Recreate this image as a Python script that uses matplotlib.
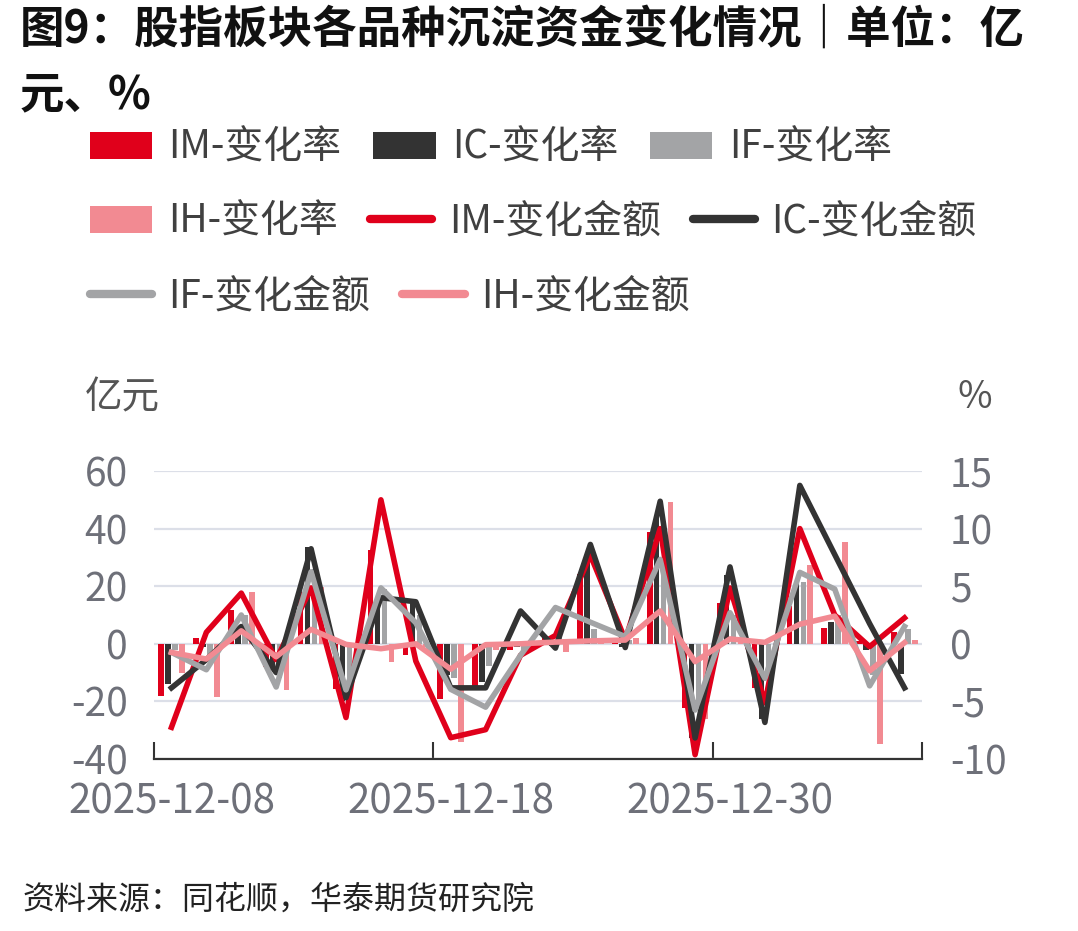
import numpy as np
import matplotlib
matplotlib.use('Agg')
import matplotlib.pyplot as plt
from matplotlib.legend_handler import HandlerLine2D

plt.rcParams['font.family'] = ['Noto Sans CJK SC', 'DejaVu Sans']
plt.rcParams['axes.unicode_minus'] = False

# trading days
dates = ['2025-12-08', '2025-12-09', '2025-12-10', '2025-12-11', '2025-12-12',
         '2025-12-15', '2025-12-16', '2025-12-17', '2025-12-18', '2025-12-19',
         '2025-12-22', '2025-12-23', '2025-12-24', '2025-12-25', '2025-12-26',
         '2025-12-29', '2025-12-30', '2025-12-31', '2026-01-05', '2026-01-06',
         '2026-01-07', '2026-01-08']

# change rate (%), right axis
im_rate = [-4.5, 0.5, 2.9, -2.0, 4.5, -3.9, 8.1, -1.0, -4.8, -3.9, -0.5,
           0.7, 6.1, 0.3, 9.7, -5.6, 3.5, -3.8, 3.3, 1.4, 0.2, 1.0]
ic_rate = [-3.5, -0.3, 1.3, -2.3, 8.4, -5.0, 3.9, 3.6, -2.7, -3.3, -0.3,
           -0.2, 7.4, -0.3, 11.0, -8.2, 6.0, -6.5, 5.4, 1.9, -0.5, -2.6]
if_rate = [-0.5, -1.5, 2.5, -3.0, 6.5, -3.3, 4.8, 2.5, -3.0, -1.9, -0.5,
           1.5, 1.3, 0.3, 7.0, -5.0, 2.5, -2.2, 5.4, 2.5, -2.7, 1.3]
ih_rate = [-2.5, -4.6, 4.5, -4.0, 4.9, -0.5, -1.6, -0.3, -8.5, -0.5, -0.3,
           -0.7, 0.2, 0.5, 12.3, -6.5, 0.5, -0.3, 6.8, 8.8, -8.7, 0.3]

# change amount (亿元), left axis
im_amt = [-29, 4, 17.6, -5.5, 19.4, -25.6, 50, -6, -32.6, -29.8, -4,
          2.9, 30.8, 1.4, 40, -38.5, 19.4, -20.5, 40, 10, -1, 9]
ic_amt = [-15.3, -5.5, 6, -10, 33, -18.7, 16, 14.6, -15.3, -15.3, 11.4,
          -1.5, 34.5, -1.3, 49.5, -32.7, 26.7, -27.3, 55, 31, 7, -15.3]
if_amt = [-3, -9, 10, -15, 25, -16, 19.4, 7.3, -15.8, -22, -4,
          12.6, 7.5, 2.5, 29.3, -23, 10.8, -12, 24.8, 19, -14.6, 6]
ih_amt = [-3, -5.3, 4.5, -4.5, 5, -0.2, -1.7, 0, -8.8, -0.3, 0,
          0.6, 1, 1.3, 11.4, -6.2, 1.7, 0.5, 6.8, 9.6, -9.4, 0.4]

c_im = '#E0001B'
c_ic = '#333333'
c_if = '#A3A4A6'
c_ih = '#F28A92'

fig = plt.figure(figsize=(10.78, 9.31), dpi=100)
ax = fig.add_axes([154 / 1078, 1 - 759 / 931, 768 / 1078, 288 / 931])
ax2 = ax.twinx()

x = np.arange(len(dates))
w = 0.16
b_im = ax.bar(x - 0.3, im_rate, w, color=c_im, label='IM-变化率')
b_ic = ax.bar(x - 0.1, ic_rate, w, color=c_ic, label='IC-变化率')
b_if = ax.bar(x + 0.1, if_rate, w, color=c_if, label='IF-变化率')
b_ih = ax.bar(x + 0.3, ih_rate, w, color=c_ih, label='IH-变化率')

lw = 4
l_im, = ax2.plot(x, im_amt, color=c_im, lw=lw, label='IM-变化金额')
l_ic, = ax2.plot(x, ic_amt, color=c_ic, lw=lw, label='IC-变化金额')
l_if, = ax2.plot(x, if_amt, color=c_if, lw=lw, label='IF-变化金额')
l_ih, = ax2.plot(x, ih_amt, color=c_ih, lw=lw, label='IH-变化金额')

ax.set_xlim(-0.5, len(dates) - 0.5)
ax.set_ylim(-10, 15)
ax2.set_ylim(-40, 60)
ax.set_yticks([-10, -5, 0, 5, 10, 15])
ax2.set_yticks([-40, -20, 0, 20, 40, 60])
ax.yaxis.tick_right()
ax2.yaxis.tick_left()

tick_col = '#6E7079'
ax.tick_params(axis='y', length=0, pad=20, labelsize=28, labelcolor=tick_col)
ax2.tick_params(axis='y', length=0, pad=19, labelsize=28, labelcolor=tick_col)

ax.set_axisbelow(True)
ax.grid(axis='y', color='#DCDFE8', lw=1.6)
ax.grid(axis='x', visible=False)

for s in ['top', 'left', 'right']:
    ax.spines[s].set_visible(False)
for s in ax2.spines.values():
    s.set_visible(False)
ax.spines['bottom'].set_color('#333333')
ax.spines['bottom'].set_linewidth(1.6)

ax.set_xticks([-0.5, 7.5, 15.5, len(dates) - 0.5])
ax.set_xticklabels([])
ax.set_xticks([0, 8, 16], minor=True)
ax.set_xticklabels([dates[0], dates[8], dates[16]], minor=True)
ax.tick_params(axis='x', which='major', direction='in', length=12, width=1.5, color='#333333')
ax.tick_params(axis='x', which='minor', length=0, pad=16, labelsize=29, labelcolor=tick_col)

fig.text(85 / 1078, 1 - 398 / 931, '亿元', fontsize=27, color='#555555', va='center')
fig.text(958 / 1078, 1 - 398 / 931, '%', fontsize=27, color='#555555', va='center')

# title and source
fig.text(20 / 1078, 1 - 30 / 931, '图9：股指板块各品种沉淀资金变化情况｜单位：亿',
         fontsize=32, fontweight='bold', va='center', color='#111111')
fig.text(20 / 1078, 1 - 95 / 931, '元、%', fontsize=32, fontweight='bold',
         va='center', color='#111111')
fig.text(22 / 1078, 1 - 900 / 931, '资料来源：同花顺，华泰期货研究院', fontsize=23,
         style='italic', va='center', color='#222222')


def thick_line(h, orig):
    h.update_from(orig)
    h.set_linewidth(6)
    h.set_solid_capstyle('round')


hmap = {l_im: HandlerLine2D(update_func=thick_line),
        l_ic: HandlerLine2D(update_func=thick_line),
        l_if: HandlerLine2D(update_func=thick_line),
        l_ih: HandlerLine2D(update_func=thick_line)}

rows = [([b_im, b_ic, b_if], 148),
        ([b_ih, l_im, l_ic], 222),
        ([l_if, l_ih], 297)]
for handles, yy in rows:
    leg = fig.legend(handles=handles, loc='center left', ncol=len(handles),
                     bbox_to_anchor=(90 / 1078, 1 - yy / 931), frameon=False,
                     fontsize=28, handlelength=1.6, handleheight=0.7,
                     handletextpad=0.42, columnspacing=0.82, borderpad=0,
                     borderaxespad=0, handler_map=hmap)
    for t in leg.get_texts():
        t.set_color('#404040')

fig.savefig('out.png', dpi=100)
